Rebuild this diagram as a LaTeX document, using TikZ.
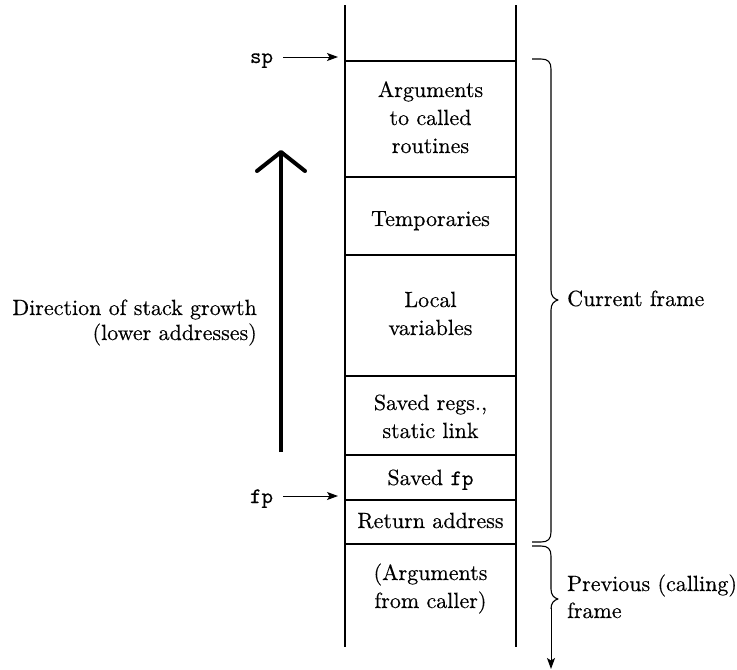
\documentclass[tikz,border=0pt]{standalone}
\usepackage{fontspec}
\setmainfont{lmroman10-regular.otf}[FakeBold=0.35]
\setmonofont{lmmono10-regular.otf}[FakeBold=0.3]
\usetikzlibrary{arrows.meta}
\begin{document}
\begin{tikzpicture}[x=1pt,y=-1pt,
  lbl/.style={font=\fontsize{22}{28}\selectfont, inner sep=0pt, anchor=base},
  lblr/.style={lbl, anchor=base east},
  lbll/.style={lbl, anchor=base west},
  ttl/.style={font=\fontsize{22}{28}\selectfont\ttfamily, inner sep=0pt, anchor=base},
  stackline/.style={line width=1.4pt},
  ptr/.style={line width=0.9pt, -{Stealth[length=11pt,width=8pt,inset=2.5pt]}},
  bracepath/.style={line width=1.1pt, line join=round},
  growth/.style={line width=4pt, line cap=round, line join=round}]
\useasboundingbox (0,0) rectangle (737,670);

% stack walls
\coordinate (TL) at (345,5);
\coordinate (TR) at (516,5);
\coordinate (BL) at (345,647);
\coordinate (BR) at (516,647);
\draw[stackline] (TL) -- (BL);
\draw[stackline] (TR) -- (BR);

% cell boundaries
\foreach \n/\y in {a/61,b/177,c/255,d/376,e/455,f/500,g/544}{
  \coordinate (L\n) at (345,\y);
  \coordinate (R\n) at (516,\y);
  \draw[stackline] (L\n) -- (R\n);
}

% cell texts
\node[lbl] (arg1) at (430.5,97) {Arguments};
\node[lbl] (arg2) at (430.5,125) {to called};
\node[lbl] (arg3) at (430.5,153) {routines};
\node[lbl] (temp) at (430.5,226) {Temporaries};
\node[lbl] (loc1) at (430.5,307) {Local};
\node[lbl] (loc2) at (430.5,335) {variables};
\node[lbl] (sav1) at (430.5,410) {Saved regs.,};
\node[lbl] (sav2) at (430.5,438) {static link};
\node[lbl] (sfp) at (430.5,485) {Saved \texttt{fp}};
\node[lbl] (ret) at (430.5,528) {Return address};
\node[lbl] (frm1) at (430.5,580) {(Arguments};
\node[lbl] (frm2) at (430.5,608) {from caller)};

% sp and fp pointers
\node[ttl] (sp) at (261.5,63) {sp};
\node[ttl] (fp) at (261.5,503) {fp};
\coordinate (spTip) at (338,57);
\coordinate (fpTip) at (338,496);
\draw[ptr] ([shift={(10,-6)}]sp.base east) -- (spTip);
\draw[ptr] ([shift={(10,-7)}]fp.base east) -- (fpTip);

% direction of growth
\coordinate (gBot) at (281,452);
\coordinate (gTop) at (281,152);
\draw[line width=4pt] (gBot) -- (gTop);
\draw[growth] (257,171) -- (gTop) -- (305,171);
\node[lblr] (dir1) at (257,315) {Direction of stack growth};
\node[lblr] (dir2) at (257,340) {(lower addresses)};

% current frame brace
\draw[bracepath] (532,59) -- (541,59) .. controls (548,59) and (551,62) .. (551,69)
  -- (551,290) .. controls (551,296) and (554,299) .. (558,300)
  .. controls (554,301) and (551,304) .. (551,310)
  -- (551,532) .. controls (551,539) and (548,542) .. (541,542) -- (532,542);
\coordinate (curTip) at (558,300);
\node[lbll] (cur) at (567,306) {Current frame};

% previous frame brace with arrow
\coordinate (prevEnd) at (551,669);
\draw[bracepath] (532,546) -- (541,546) .. controls (548,546) and (551,549) .. (551,556)
  -- (551,589) .. controls (551,595) and (554,598) .. (558,599)
  .. controls (554,600) and (551,603) .. (551,609);
\draw[ptr] (551,608) -- (prevEnd);
\node[lbll] (prev1) at (567,591) {Previous (calling)};
\node[lbll] (prev2) at (567,618) {frame};
\end{tikzpicture}
\end{document}
